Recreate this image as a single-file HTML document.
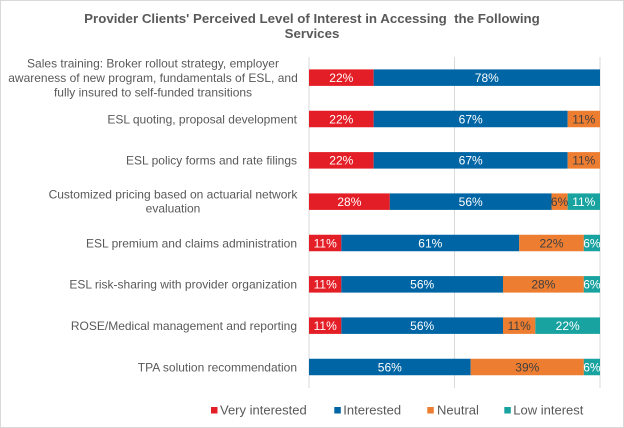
<!DOCTYPE html>
<html><head><meta charset="utf-8"><style>
html,body{margin:0;padding:0;background:#fff}
svg{display:block}
text{font-family:"Liberation Sans",Arial,sans-serif}
</style></head><body>
<svg width="624" height="428" viewBox="0 0 624 428" xmlns="http://www.w3.org/2000/svg">
<rect x="0.5" y="0.5" width="623" height="427" fill="#fff" stroke="#d9d9d9" stroke-width="1"/>
<g font-size="13.3" font-weight="bold" fill="#595959" text-anchor="middle" style="white-space:pre">
<text x="312" y="23" xml:space="preserve">Provider Clients' Perceived Level of Interest in Accessing  the Following</text>
<text x="312" y="38">Services</text>
</g>
<g stroke="#d9d9d9" stroke-width="1">
<line x1="309" y1="57" x2="309" y2="388"/>
<line x1="454.5" y1="57" x2="454.5" y2="388"/>
<line x1="600" y1="57" x2="600" y2="388"/>
</g>
<g font-size="12" fill="#595959">
<g text-anchor="middle">
<text x="153" y="67.5">Sales training: Broker rollout strategy, employer</text>
<text x="153" y="82">awareness of new program, fundamentals of ESL, and</text>
<text x="153" y="96.5">fully insured to self-funded transitions</text>
<text x="173" y="198.5">Customized pricing based on actuarial network</text>
<text x="173" y="212.5">evaluation</text>
</g>
<g text-anchor="end">
<text x="297" y="123.3">ESL quoting, proposal development</text>
<text x="297" y="164.6">ESL policy forms and rate filings</text>
<text x="297" y="247.3">ESL premium and claims administration</text>
<text x="297" y="288.6">ESL risk-sharing with provider organization</text>
<text x="297" y="330">ROSE/Medical management and reporting</text>
<text x="297" y="371.3">TPA solution recommendation</text>
</g>
</g>
<g>
<rect x="309" y="69.4" width="64.67" height="16.5" fill="#e31e26"/>
<rect x="373.67" y="69.4" width="226.33" height="16.5" fill="#0065a4"/>
<rect x="309" y="110.75" width="64.67" height="16.5" fill="#e31e26"/>
<rect x="373.67" y="110.75" width="194" height="16.5" fill="#0065a4"/>
<rect x="567.67" y="110.75" width="32.33" height="16.5" fill="#ed7d31"/>
<rect x="309" y="152.1" width="64.67" height="16.5" fill="#e31e26"/>
<rect x="373.67" y="152.1" width="194" height="16.5" fill="#0065a4"/>
<rect x="567.67" y="152.1" width="32.33" height="16.5" fill="#ed7d31"/>
<rect x="309" y="193.4" width="80.83" height="16.5" fill="#e31e26"/>
<rect x="389.83" y="193.4" width="161.67" height="16.5" fill="#0065a4"/>
<rect x="551.5" y="193.4" width="16.17" height="16.5" fill="#ed7d31"/>
<rect x="567.67" y="193.4" width="32.33" height="16.5" fill="#18a3a0"/>
<rect x="309" y="234.75" width="32.33" height="16.5" fill="#e31e26"/>
<rect x="341.33" y="234.75" width="177.84" height="16.5" fill="#0065a4"/>
<rect x="519.17" y="234.75" width="64.66" height="16.5" fill="#ed7d31"/>
<rect x="583.83" y="234.75" width="16.17" height="16.5" fill="#18a3a0"/>
<rect x="309" y="276.1" width="32.33" height="16.5" fill="#e31e26"/>
<rect x="341.33" y="276.1" width="161.67" height="16.5" fill="#0065a4"/>
<rect x="503" y="276.1" width="80.83" height="16.5" fill="#ed7d31"/>
<rect x="583.83" y="276.1" width="16.17" height="16.5" fill="#18a3a0"/>
<rect x="309" y="317.4" width="32.33" height="16.5" fill="#e31e26"/>
<rect x="341.33" y="317.4" width="161.67" height="16.5" fill="#0065a4"/>
<rect x="503" y="317.4" width="32.33" height="16.5" fill="#ed7d31"/>
<rect x="535.33" y="317.4" width="64.67" height="16.5" fill="#18a3a0"/>
<rect x="309" y="358.75" width="161.67" height="16.5" fill="#0065a4"/>
<rect x="470.67" y="358.75" width="113.16" height="16.5" fill="#ed7d31"/>
<rect x="583.83" y="358.75" width="16.17" height="16.5" fill="#18a3a0"/>
</g>
<g font-size="12" text-anchor="middle" fill="#fff">
<text x="341.3" y="82">22%</text>
<text x="486.8" y="82">78%</text>
<text x="341.3" y="123.3">22%</text>
<text x="470.7" y="123.3">67%</text>
<text x="341.3" y="164.6">22%</text>
<text x="470.7" y="164.6">67%</text>
<text x="349.4" y="206">28%</text>
<text x="470.7" y="206">56%</text>
<text x="583.8" y="206">11%</text>
<text x="325.2" y="247.3">11%</text>
<text x="430.3" y="247.3">61%</text>
<text x="591.9" y="247.3">6%</text>
<text x="325.2" y="288.6">11%</text>
<text x="422.2" y="288.6">56%</text>
<text x="591.9" y="288.6">6%</text>
<text x="325.2" y="330">11%</text>
<text x="422.2" y="330">56%</text>
<text x="567.7" y="330">22%</text>
<text x="389.8" y="371.3">56%</text>
<text x="591.9" y="371.3">6%</text>
</g>
<g font-size="12" text-anchor="middle" fill="#404040">
<text x="583.8" y="123.3">11%</text>
<text x="583.8" y="164.6">11%</text>
<text x="559.6" y="206">6%</text>
<text x="551.5" y="247.3">22%</text>
<text x="543.4" y="288.6">28%</text>
<text x="519.2" y="330">11%</text>
<text x="527.3" y="371.3">39%</text>
</g>
<g font-size="13" fill="#595959">
<rect x="211" y="407" width="6.5" height="6.5" fill="#e31e26"/>
<text x="220" y="414.5">Very interested</text>
<rect x="334.3" y="407" width="6.5" height="6.5" fill="#0065a4"/>
<text x="343.3" y="414.5">Interested</text>
<rect x="427.3" y="407" width="6.5" height="6.5" fill="#ed7d31"/>
<text x="437" y="414.5">Neutral</text>
<rect x="504.3" y="407" width="6.5" height="6.5" fill="#18a3a0"/>
<text x="513.3" y="414.5">Low interest</text>
</g>
</svg>
</body></html>
